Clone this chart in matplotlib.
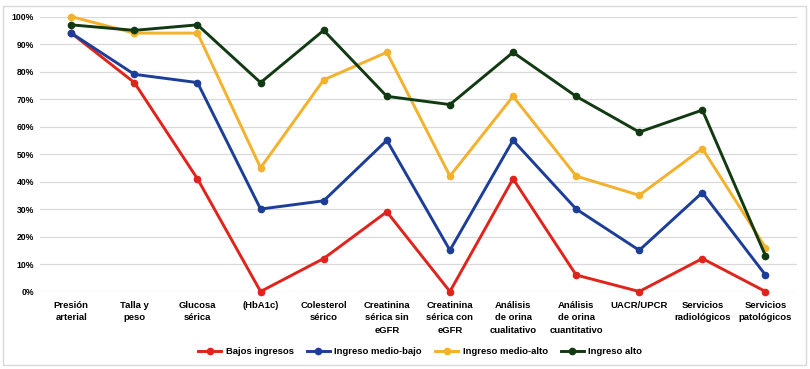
import matplotlib.pyplot as plt
from matplotlib.patches import Rectangle
from matplotlib.ticker import PercentFormatter

# Data (percent)
categories = ["Presión\narterial", "Talla y\npeso", "Glucosa\nsérica", "(HbA1c)",
              "Colesterol\nsérico", "Creatinina\nsérica sin\neGFR", "Creatinina\nsérica con\neGFR",
              "Análisis\nde orina\ncualitativo", "Análisis\nde orina\ncuantitativo", "UACR/UPCR",
              "Servicios\nradiológicos", "Servicios\npatológicos"]
bajos = [94, 76, 41, 0, 12, 29, 0, 41, 6, 0, 12, 0]
medio_bajo = [94, 79, 76, 30, 33, 55, 15, 55, 30, 15, 36, 6]
medio_alto = [100, 94, 94, 45, 77, 87, 42, 71, 42, 35, 52, 16]
alto = [97, 95, 97, 76, 95, 71, 68, 87, 71, 58, 66, 13]

series = [
    ("Bajos ingresos", bajos, "#E0231B"),
    ("Ingreso medio-bajo", medio_bajo, "#1D3E98"),
    ("Ingreso medio-alto", medio_alto, "#F3B12C"),
    ("Ingreso alto", alto, "#123A12"),
]

plt.rcParams['font.family'] = ['Liberation Sans', 'DejaVu Sans']

fig = plt.figure(figsize=(8.1, 3.69), dpi=100)
ax = fig.add_axes([0.049, 0.21, 0.935, 0.745])

x = list(range(len(categories)))
for name, vals, col in series:
    ax.plot(x, [v / 100 for v in vals], color=col, lw=2.1, marker='o', ms=4.5,
            label=name, clip_on=False, zorder=3)

ax.set_xlim(-0.5, len(categories) - 0.5)
ax.set_ylim(0, 1.0)
ax.set_yticks([i / 10 for i in range(11)])
ax.yaxis.set_major_formatter(PercentFormatter(1.0, decimals=0))
ax.set_xticks(x)
ax.set_xticklabels(categories, fontsize=6.8, fontweight='bold', linespacing=1.45)
for lab in ax.get_yticklabels():
    lab.set_fontsize(6.2)
    lab.set_fontweight('bold')
ax.tick_params(length=0, pad=4)
ax.tick_params(axis='x', pad=7)
ax.grid(axis='y', color='#D9D9D9', lw=0.9, zorder=0)
for s in ax.spines.values():
    s.set_visible(False)

leg = fig.legend(loc='center', bbox_to_anchor=(0.519, 0.047), ncol=4, frameon=False,
                 prop={'size': 6.8, 'weight': 'bold'}, handlelength=2.4,
                 columnspacing=1.4, handletextpad=0.5)

# light frame round the whole chart
fig.patches.append(Rectangle((0.004, 0.01), 0.991, 0.975, transform=fig.transFigure,
                             fill=False, edgecolor='#D9D9D9', lw=1.0))

fig.savefig("out.png", dpi=100)
